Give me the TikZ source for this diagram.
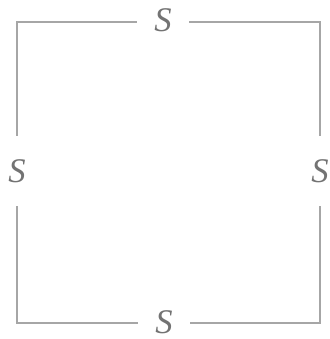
\documentclass[tikz,border=0pt]{standalone}
\usepackage{fontspec}
\setmainfont{Liberation Serif}
\usepackage{tikz}
\usetikzlibrary{arrows,calc,positioning}

\begin{document}
\begin{tikzpicture}[
            x=0.5pt, y=-0.5pt,
            side/.style={
                inner sep=0pt,
                minimum width=26pt,
                minimum height=35pt,
                text=black!55,
                font=\LARGE\itshape
            },
            edge/.style={draw=black!35, line width=0.9pt}
        ]

            \useasboundingbox (0,0) rectangle (330,339);

            \node[side] (top) at (163,20) {S};
            \node[side] (left) at (17,171) {S};
            \node[side] (right) at (320,171) {S};
            \node[side] (bottom) at (164,322) {S};

            \draw[edge] (top.west |- 0,22) -| (left);
            \draw[edge] (top.east |- 0,22) -| (right);
            \draw[edge] (bottom.west |- 0,323) -| (left);
            \draw[edge] (bottom.east |- 0,323) -| (right);

        \end{tikzpicture}
\end{document}
